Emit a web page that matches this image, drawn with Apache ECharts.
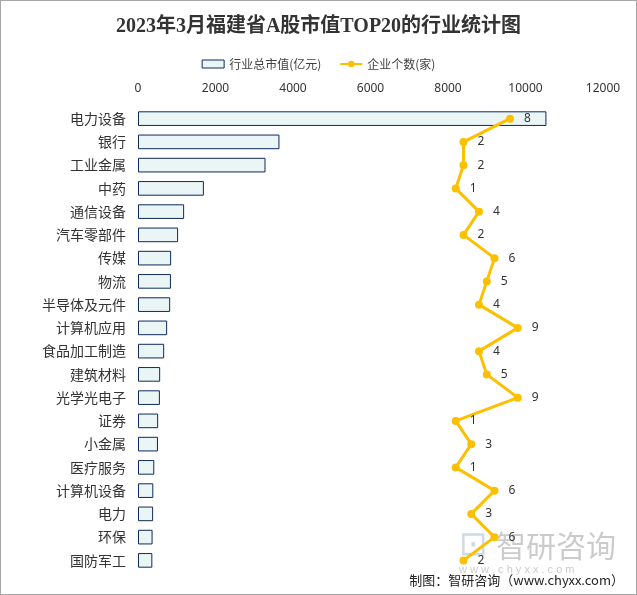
<!DOCTYPE html>
<html><head><meta charset="utf-8">
<script src="https://cdn.jsdelivr.net/npm/echarts@6/dist/echarts.min.js"></script>
<style>html,body{margin:0;padding:0;background:#fff}#c{width:637px;height:595px;box-sizing:border-box;border:1px solid #a6a6a6}</style>
</head><body><div id="c"></div>
<script>
const categories = ["电力设备","银行","工业金属","中药","通信设备","汽车零部件","传媒","物流","半导体及元件","计算机应用","食品加工制造","建筑材料","光学光电子","证券","小金属","医疗服务","计算机设备","电力","环保","国防军工"];
const marketValue = [10540,3650,3290,1700,1190,1035,855,850,830,752,675,572,565,520,515,420,395,390,376,370];
const companyCount = [8,2,2,1,4,2,6,5,4,9,4,5,9,1,3,1,6,3,6,2];
const xTicks = [0,2000,4000,6000,8000,10000,12000];

const chart = echarts.init(document.getElementById('c'));
chart.setOption({
  animation:false,
  title:{text:'2023年3月福建省A股市值TOP20的行业统计图',left:'center',top:11,
    textStyle:{fontFamily:"'Liberation Serif','Noto Sans CJK SC'",fontWeight:'bold',fontSize:20,color:'#333'}},
  legend:{top:52,left:'center',itemGap:18,textStyle:{fontSize:12,color:'#404040',fontFamily:"'Noto Sans CJK SC'"},
    data:[{name:'行业总市值(亿元)',icon:'rect',itemStyle:{color:'#eaf6f6',borderColor:'#0e2a5c',borderWidth:1}},
          {name:'企业个数(家)'}],
    itemWidth:22,itemHeight:8},
  grid:{left:137,right:33,top:106,bottom:22,containLabel:false},
  xAxis:[{type:'value',position:'top',min:xTicks[0],max:xTicks[xTicks.length-1],interval:2000,
    axisLine:{show:false},axisTick:{show:false},splitLine:{show:false},
    axisLabel:{fontSize:12,color:'#333',margin:12,fontFamily:"'Noto Sans'",formatter:v=>String(v)}},
    {type:'value',min:-40,max:20,show:false}],
  yAxis:{type:'category',inverse:true,data:categories,
    axisLine:{show:false},axisTick:{show:false},
    axisLabel:{fontSize:14,color:'#333',margin:12,fontFamily:"'Noto Sans CJK SC'"}},
  series:[
    {name:'行业总市值(亿元)',type:'bar',xAxisIndex:0,data:marketValue,barCategoryGap:'37%',
      itemStyle:{color:'#eaf6f6',borderColor:'#0e2a5c',borderWidth:1}},
    {name:'企业个数(家)',type:'line',xAxisIndex:1,data:companyCount,
      lineStyle:{color:'#fcc000',width:3},itemStyle:{color:'#fcc000'},
      symbol:'circle',symbolSize:8,
      label:{show:true,position:'right',distance:10,fontSize:12,color:'#333',fontFamily:"'Noto Sans'"}}
  ],
  graphic:[
    {type:'text',left:458,top:528,style:{text:'⊡',fontSize:34,fill:'rgba(150,170,200,0.45)'}},
    {type:'text',left:495,top:530,style:{text:'智研咨询',fontSize:30,fill:'rgba(140,140,140,0.45)',fontFamily:"'Noto Sans CJK SC'"}},
    {type:'text',left:458,top:563,style:{text:'w w w . c h y x x . c o m',fontSize:11,fill:'rgba(140,140,140,0.45)'}},
    {type:'text',right:12,top:573,style:{text:'制图：智研咨询（www.chyxx.com）',fontSize:13,fill:'#222',fontFamily:"'Noto Sans CJK SC'"}}
  ]
});
</script></body></html>
